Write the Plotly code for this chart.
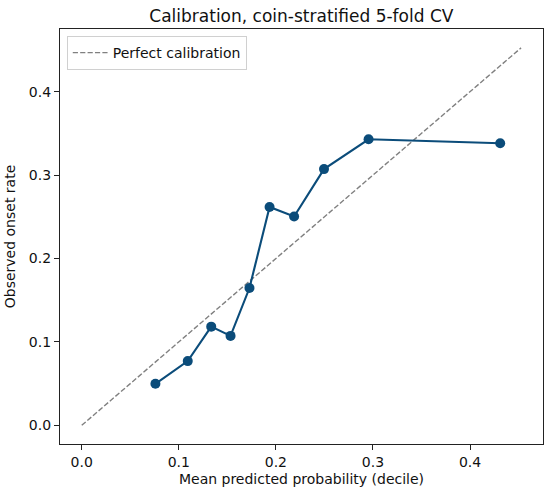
import plotly.graph_objects as go

# Calibration data (mean predicted probability per decile vs observed onset rate)
mean_pred = [0.0759, 0.1092, 0.1334, 0.1533, 0.1728, 0.1935, 0.2188, 0.2496, 0.2955, 0.4311]
observed = [0.0498, 0.0770, 0.1183, 0.1072, 0.1646, 0.2618, 0.2503, 0.3072, 0.3430, 0.3383]
perfect_x = [0.0, 0.4526]
perfect_y = [0.0, 0.4526]
tick_vals = [0.0, 0.1, 0.2, 0.3, 0.4]
tick_text = ["0.0", "0.1", "0.2", "0.3", "0.4"]

FONT = "DejaVu Sans"
LINE_COLOR = "#0b4c7a"
W, H = 550, 496

fig = go.Figure()
fig.add_trace(go.Scatter(
    x=perfect_x, y=perfect_y, mode="lines", name="Perfect calibration",
    line=dict(color="#808080", width=1.4, dash="5.2px,2.2px"), showlegend=True,
))
fig.add_trace(go.Scatter(
    x=mean_pred, y=observed, mode="lines+markers", name="Model",
    line=dict(color=LINE_COLOR, width=2.1),
    marker=dict(color=LINE_COLOR, size=10), showlegend=False,
))

axis_common = dict(
    range=[-0.0224, 0.4752], tickvals=tick_vals, ticktext=tick_text,
    showgrid=False, zeroline=False, showline=True, mirror=True,
    linecolor="#222222", linewidth=1.2, ticks="outside", ticklen=5, tickwidth=1.1,
    tickcolor="#222222", tickfont=dict(family=FONT, size=14, color="#111111"),
    automargin=False,
)

fig.update_layout(
    width=W, height=H,
    margin=dict(l=60, r=7, t=29, b=52),
    paper_bgcolor="white", plot_bgcolor="white",
    font=dict(family=FONT, color="#111111"),
    title=dict(text="Calibration, coin-stratified 5-fold CV", x=(60 + 542.7) / 2 / W,
               xanchor="center", xref="container", yref="container",
               y=1 - 16.5 / H, yanchor="middle",
               font=dict(family=FONT, size=17, color="#111111")),
    xaxis=dict(axis_common, title=dict(text="Mean predicted probability (decile)",
                                         font=dict(family=FONT, size=14), standoff=5)),
    yaxis=dict(axis_common, title=dict(text="Observed onset rate",
                                         font=dict(family=FONT, size=14), standoff=9)),
    legend=dict(x=0.014, y=0.983, xanchor="left", yanchor="top", itemwidth=35,
                bgcolor="rgba(255,255,255,0.8)", bordercolor="#d0d0d0", borderwidth=1,
                font=dict(family=FONT, size=14)),
)

fig.write_html("out.html", config={"displayModeBar": False},
               post_script="document.body.style.margin='0';")
